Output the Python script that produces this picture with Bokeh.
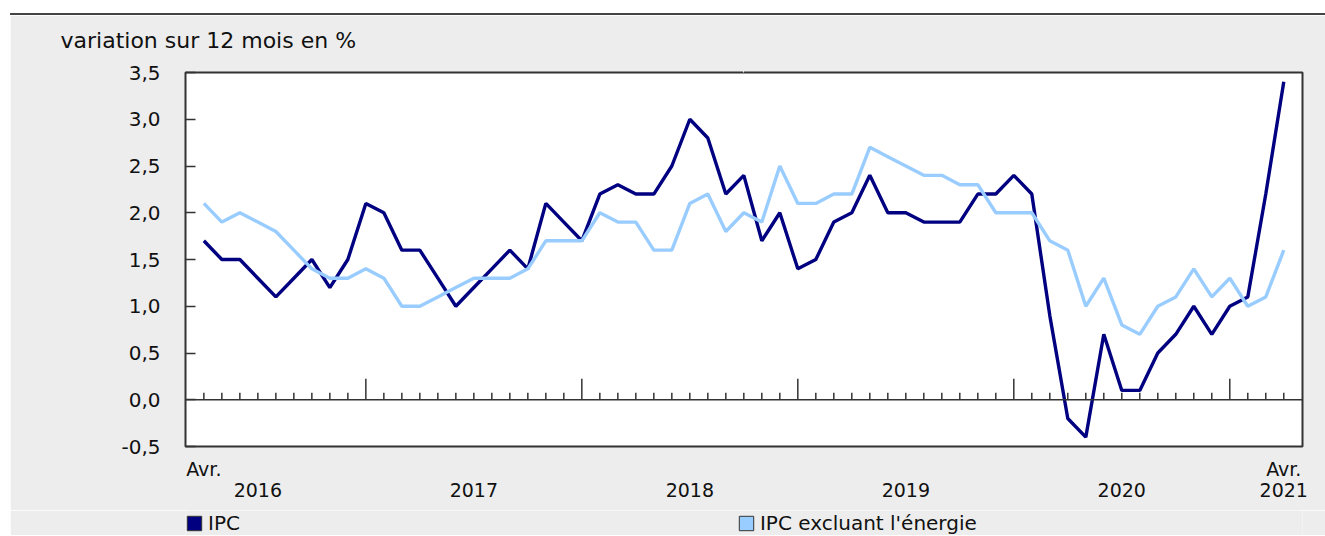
import numpy as np
import pandas as pd
from bokeh.plotting import figure
from bokeh.layouts import column
from bokeh.models import (Range1d, LinearAxis, FixedTicker, Span, Legend,
                          LegendItem, CustomJSTickFormatter, Title)
from bokeh.embed import file_html
from bokeh.resources import INLINE

# ---------------- data ----------------
months = pd.date_range("2016-04-01", "2021-04-01", freq="MS")

ipc = [1.7, 1.5, 1.5, 1.3, 1.1, 1.3, 1.5, 1.2, 1.5,
       2.1, 2.0, 1.6, 1.6, 1.3, 1.0, 1.2, 1.4, 1.6, 1.4, 2.1, 1.9,
       1.7, 2.2, 2.3, 2.2, 2.2, 2.5, 3.0, 2.8, 2.2, 2.4, 1.7, 2.0,
       1.4, 1.5, 1.9, 2.0, 2.4, 2.0, 2.0, 1.9, 1.9, 1.9, 2.2, 2.2,
       2.4, 2.2, 0.9, -0.2, -0.4, 0.7, 0.1, 0.1, 0.5, 0.7, 1.0, 0.7,
       1.0, 1.1, 2.2, 3.4]

ipc_excl_energie = [2.1, 1.9, 2.0, 1.9, 1.8, 1.6, 1.4, 1.3, 1.3,
                    1.4, 1.3, 1.0, 1.0, 1.1, 1.2, 1.3, 1.3, 1.3, 1.4, 1.7, 1.7,
                    1.7, 2.0, 1.9, 1.9, 1.6, 1.6, 2.1, 2.2, 1.8, 2.0, 1.9, 2.5,
                    2.1, 2.1, 2.2, 2.2, 2.7, 2.6, 2.5, 2.4, 2.4, 2.3, 2.3, 2.0,
                    2.0, 2.0, 1.7, 1.6, 1.0, 1.3, 0.8, 0.7, 1.0, 1.1, 1.4, 1.1,
                    1.3, 1.0, 1.1, 1.6]

y_ticks = [-0.5, 0.0, 0.5, 1.0, 1.5, 2.0, 2.5, 3.0, 3.5]
series_labels = ["IPC", "IPC excluant l'énergie"]
series_colors = ["#000080", "#99CCFF"]
title_text = "variation sur 12 mois en %"
end_month_label = "Avr."

# ---------------- derived positions ----------------
x = np.arange(len(months))
n = len(months)
tick_len = [21 if m.month == 1 else 7 for m in months]

year_pos = []
year_lab = []
for yr in sorted(set(months.year)):
    idx = [i for i, m in enumerate(months) if m.year == yr]
    jul = [i for i in idx if months[i].month == 7]
    year_pos.append(jul[0] if jul else idx[-1])
    year_lab.append(str(yr))

FONT = "DejaVu Sans"
TXT = "#111111"
BG = "#EDEDED"

p = figure(width=1315, height=495, output_backend="svg", toolbar_location=None,
           tools="", title=None,
           x_range=Range1d(-1.02, n - 1 + 1.04), y_range=Range1d(-0.5, 3.5),
           x_axis_location=None, y_axis_location="left",
           min_border_left=175, min_border_right=23, min_border_top=57,
           min_border_bottom=64, background_fill_color="white",
           border_fill_color=BG, outline_line_color="#333333",
           outline_line_width=2)

p.xgrid.visible = False
p.ygrid.visible = False

# invisible spacer next to the frame (tick drawn in the border colour), then the title
mid = float(n // 2)
spacer = LinearAxis(ticker=FixedTicker(ticks=[mid]), major_label_overrides={mid: ""},
                    axis_line_color=None, major_tick_line_color=BG,
                    minor_tick_line_color=None, major_tick_in=0, major_tick_out=15,
                    major_label_standoff=0, major_label_text_font_size="1px",
                    major_label_text_color=BG)
p.add_layout(spacer, "above")

title = Title(text=title_text, align="left", offset=-125, standoff=10,
              text_font=FONT, text_font_size="22px", text_font_style="normal",
              text_color=TXT)
p.add_layout(title, "above")

# y axis
ya = p.yaxis[0]
ya.ticker = FixedTicker(ticks=y_ticks)
ya.formatter = CustomJSTickFormatter(code="return tick.toFixed(1).replace('.', ',');")
ya.axis_line_color = None
ya.major_tick_in = 10
ya.major_tick_out = 0
ya.major_tick_line_color = "#333333"
ya.major_tick_line_width = 1.5
ya.minor_tick_line_color = None
ya.major_label_standoff = 25
ya.major_label_text_font = FONT
ya.major_label_text_font_size = "20px"
ya.major_label_text_color = TXT

# zero line with month ticks
p.add_layout(Span(location=0, dimension="width", line_color="#333333", line_width=1.5))
p.ray(x=x, y=np.zeros(n), length=tick_len, angle=np.pi / 2, length_units="screen",
      line_color="#333333", line_width=1.5)

# lines
p.line(x, ipc, line_color=series_colors[0], line_width=3.4)
p.line(x, ipc_excl_energie, line_color=series_colors[1], line_width=3.4)


def make_axis(ticks, labels, standoff):
    ax = LinearAxis(ticker=FixedTicker(ticks=ticks),
                    major_label_overrides={t: l for t, l in zip(ticks, labels)})
    ax.axis_line_color = None
    ax.major_tick_line_color = None
    ax.major_tick_in = 0
    ax.major_tick_out = 0
    ax.minor_tick_line_color = None
    ax.major_label_standoff = standoff
    ax.major_label_text_font = FONT
    ax.major_label_text_font_size = "19px"
    ax.major_label_text_color = TXT
    return ax


p.add_layout(make_axis([0, n - 1], [end_month_label, end_month_label], 11), "below")
p.add_layout(make_axis(year_pos, year_lab, 0), "below")

# ---------------- legend strip (frame aligned with the chart frame) ----------------
leg = figure(width=1315, height=25, output_backend="svg", toolbar_location=None,
             tools="", title=None, x_range=Range1d(0, 1), y_range=Range1d(0, 1),
             x_axis_location=None, y_axis_location=None, min_border=0,
             outline_line_color=None, background_fill_color=BG,
             border_fill_color=BG)
leg.xgrid.visible = False
leg.ygrid.visible = False
# swatch sources sit outside the visible range; only their legend squares show
r1 = leg.quad(left=[-3], right=[-2], top=[-2], bottom=[-3],
              fill_color=series_colors[0], line_color="#333333")
r2 = leg.quad(left=[-3], right=[-2], top=[-2], bottom=[-3],
              fill_color=series_colors[1], line_color="#333333")
legend = Legend(items=[LegendItem(label=series_labels[0], renderers=[r1]),
                       LegendItem(label=series_labels[1], renderers=[r2])],
                orientation="horizontal", location=(0, 0),
                border_line_color=None, background_fill_alpha=0,
                padding=0, margin=0, spacing=497,
                glyph_width=18, glyph_height=18, label_standoff=5,
                label_text_font=FONT, label_text_font_size="20px",
                label_text_color=TXT, label_height=18)
leg.add_layout(legend, "center")

layout = column(p, leg, spacing=0,
                styles={"margin-top": "13px", "margin-left": "10px",
                        "border-top": "2px solid #444444"})

open("out.html", "w").write(file_html(layout, INLINE))
